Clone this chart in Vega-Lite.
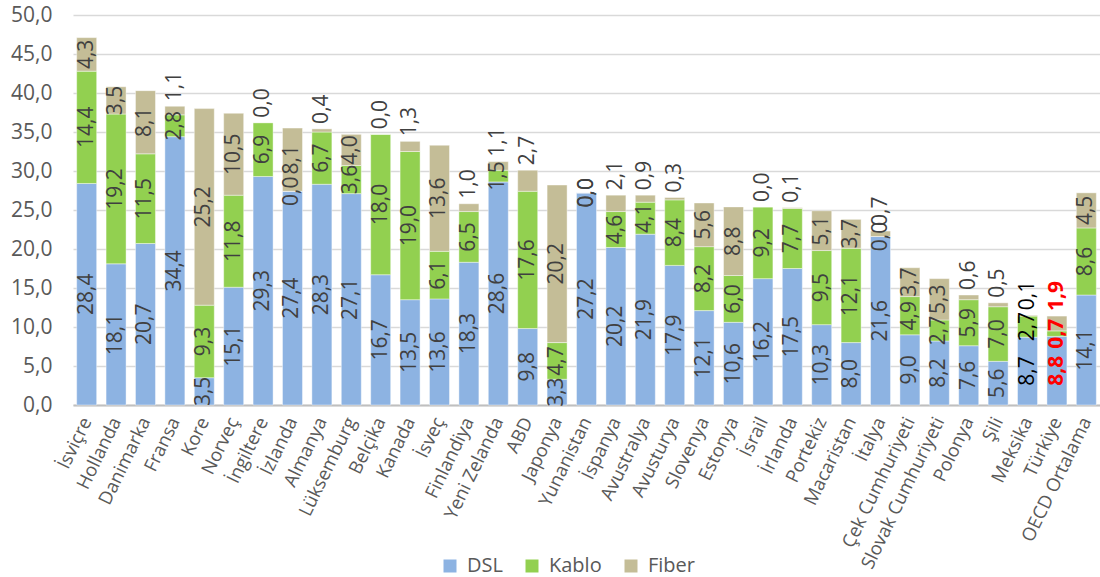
{
  "$schema": "https://vega.github.io/schema/vega-lite/v6.json",
  "width": 1027,
  "height": 390,
  "autosize": {"type": "none"},
  "padding": {"left": 73, "top": 15, "right": 0, "bottom": 172},
  "background": "white",
  "config": {
    "locale": {"number": {"decimal": ",", "thousands": ".", "grouping": [3], "currency": ["", ""]}},
    "view": {"stroke": null},
    "font": "Open Sans",
    "axisY": {
      "title": null,
      "format": ".1f",
      "domain": false,
      "ticks": false,
      "labelFontSize": 21,
      "labelColor": "#595959",
      "labelFont": "Open Sans",
      "labelPadding": 21,
      "gridColor": "#d9d9d9",
      "gridWidth": 1.3
    }
  },
  "data": {
    "values": [
      {"Ülke": "İsviçre", "DSL": 28.4, "Kablo": 14.4, "Fiber": 4.3},
      {"Ülke": "Hollanda", "DSL": 18.1, "Kablo": 19.2, "Fiber": 3.5},
      {"Ülke": "Danimarka", "DSL": 20.7, "Kablo": 11.5, "Fiber": 8.1},
      {"Ülke": "Fransa", "DSL": 34.4, "Kablo": 2.8, "Fiber": 1.1},
      {"Ülke": "Kore", "DSL": 3.5, "Kablo": 9.3, "Fiber": 25.2},
      {"Ülke": "Norveç", "DSL": 15.1, "Kablo": 11.8, "Fiber": 10.5},
      {"Ülke": "İngiltere", "DSL": 29.3, "Kablo": 6.9, "Fiber": 0.0},
      {"Ülke": "İzlanda", "DSL": 27.4, "Kablo": 0.0, "Fiber": 8.1},
      {"Ülke": "Almanya", "DSL": 28.3, "Kablo": 6.7, "Fiber": 0.4},
      {"Ülke": "Lüksemburg", "DSL": 27.1, "Kablo": 3.6, "Fiber": 4.0},
      {"Ülke": "Belçika", "DSL": 16.7, "Kablo": 18.0, "Fiber": 0.0},
      {"Ülke": "Kanada", "DSL": 13.5, "Kablo": 19.0, "Fiber": 1.3},
      {"Ülke": "İsveç", "DSL": 13.6, "Kablo": 6.1, "Fiber": 13.6},
      {"Ülke": "Finlandiya", "DSL": 18.3, "Kablo": 6.5, "Fiber": 1.0},
      {"Ülke": "Yeni Zelanda", "DSL": 28.6, "Kablo": 1.5, "Fiber": 1.1},
      {"Ülke": "ABD", "DSL": 9.8, "Kablo": 17.6, "Fiber": 2.7},
      {"Ülke": "Japonya", "DSL": 3.3, "Kablo": 4.7, "Fiber": 20.2},
      {"Ülke": "Yunanistan", "DSL": 27.2, "Kablo": 0.0, "Fiber": 0.0},
      {"Ülke": "İspanya", "DSL": 20.2, "Kablo": 4.6, "Fiber": 2.1},
      {"Ülke": "Avustralya", "DSL": 21.9, "Kablo": 4.1, "Fiber": 0.9},
      {"Ülke": "Avusturya", "DSL": 17.9, "Kablo": 8.4, "Fiber": 0.3},
      {"Ülke": "Slovenya", "DSL": 12.1, "Kablo": 8.2, "Fiber": 5.6},
      {"Ülke": "Estonya", "DSL": 10.6, "Kablo": 6.0, "Fiber": 8.8},
      {"Ülke": "İsrail", "DSL": 16.2, "Kablo": 9.2, "Fiber": 0.0},
      {"Ülke": "İrlanda", "DSL": 17.5, "Kablo": 7.7, "Fiber": 0.1},
      {"Ülke": "Portekiz", "DSL": 10.3, "Kablo": 9.5, "Fiber": 5.1},
      {"Ülke": "Macaristan", "DSL": 8.0, "Kablo": 12.1, "Fiber": 3.7},
      {"Ülke": "İtalya", "DSL": 21.6, "Kablo": 0.0, "Fiber": 0.7},
      {"Ülke": "Çek Cumhuriyeti", "DSL": 9.0, "Kablo": 4.9, "Fiber": 3.7},
      {"Ülke": "Slovak Cumhuriyeti", "DSL": 8.2, "Kablo": 2.7, "Fiber": 5.3},
      {"Ülke": "Polonya", "DSL": 7.6, "Kablo": 5.9, "Fiber": 0.6},
      {"Ülke": "Şili", "DSL": 5.6, "Kablo": 7.0, "Fiber": 0.5},
      {"Ülke": "Meksika", "DSL": 8.7, "Kablo": 2.7, "Fiber": 0.1},
      {"Ülke": "Türkiye", "DSL": 8.8, "Kablo": 0.7, "Fiber": 1.9},
      {"Ülke": "OECD Ortalama", "DSL": 14.1, "Kablo": 8.6, "Fiber": 4.5}
    ]
  },
  "transform": [
    {"fold": ["DSL", "Kablo", "Fiber"], "as": ["Tür", "Değer"]},
    {"stack": "Değer", "groupby": ["Ülke"], "as": ["y0", "y1"]}
  ],
  "encoding": {
    "x": {
      "field": "Ülke",
      "type": "nominal",
      "sort": null,
      "scale": {"paddingInner": 0.32, "paddingOuter": 0.125},
      "axis": {
        "title": null,
        "labelAngle": -64,
        "labelFontSize": 18.5,
        "labelColor": "#595959",
        "labelFont": "Open Sans",
        "ticks": false,
        "domainColor": "#bfbfbf",
        "domainWidth": 2,
        "labelPadding": 13
      }
    }
  },
  "layer": [
    {
      "mark": {"type": "bar", "stroke": "#ffffff", "strokeWidth": 0.6, "strokeOpacity": 0.7},
      "encoding": {
        "y": {
          "field": "y0",
          "type": "quantitative",
          "title": null,
          "scale": {"domain": [0, 50], "nice": false},
          "axis": {"values": [0, 5, 10, 15, 20, 25, 30, 35, 40, 45, 50]}
        },
        "y2": {"field": "y1"},
        "color": {
          "field": "Tür",
          "type": "nominal",
          "scale": {"domain": ["DSL", "Kablo", "Fiber"], "range": ["#8db3e2", "#92d050", "#c4bd97"]},
          "legend": {
            "orient": "none",
            "legendX": 367,
            "legendY": 541,
            "direction": "horizontal",
            "title": null,
            "symbolType": "square",
            "symbolSize": 169,
            "symbolStrokeWidth": 0,
            "labelFontSize": 20,
            "labelColor": "#595959",
            "labelFont": "Open Sans",
            "columnPadding": 19,
            "labelOffset": 7
          }
        }
      }
    },
    {
      "transform": [{"filter": "datum['Ülke'] != 'Türkiye' && !(datum['Tür'] == 'Fiber' && datum['Değer'] < 3) && !(datum['Tür'] == 'Kablo' && datum['Değer'] == 0)"}],
      "mark": {"type": "text", "angle": 270, "align": "center", "baseline": "middle", "fontSize": 21, "font": "Open Sans"},
      "encoding": {
        "y": {"field": "Değer", "type": "quantitative", "stack": "zero", "bandPosition": 0.5, "title": null, "axis": {"values": [0, 5, 10, 15, 20, 25, 30, 35, 40, 45, 50]}},
        "order": {"field": "y0", "type": "quantitative", "sort": "ascending"},
        "text": {"field": "Değer", "type": "quantitative", "format": ".1f"},
        "color": {"condition": {"test": "datum['Ülke'] == 'Meksika'", "value": "#000000"}, "value": "#404040"}
      }
    },
    {
      "transform": [{"filter": "datum['Ülke'] != 'Türkiye' && datum['Değer'] == 0 && (datum['Tür'] == 'Kablo' || (datum['Tür'] == 'Fiber' && datum['Kablo'] == 0))"}],
      "mark": {"type": "text", "angle": 270, "align": "center", "baseline": "middle", "fontSize": 21, "font": "Open Sans"},
      "encoding": {
        "y": {"field": "y0", "type": "quantitative", "title": null, "axis": {"values": [0, 5, 10, 15, 20, 25, 30, 35, 40, 45, 50]}},
        "text": {"field": "Değer", "type": "quantitative", "format": ".1f"},
        "color": {"value": "#404040"}
      }
    },
    {
      "transform": [{"filter": "datum['Ülke'] != 'Türkiye' && datum['Tür'] == 'Fiber' && datum['Değer'] < 3 && !(datum['Değer'] == 0 && datum['Kablo'] == 0)"}],
      "mark": {"type": "text", "angle": 270, "align": "left", "baseline": "middle", "dx": 5, "fontSize": 21, "font": "Open Sans"},
      "encoding": {
        "y": {"field": "y1", "type": "quantitative", "title": null, "axis": {"values": [0, 5, 10, 15, 20, 25, 30, 35, 40, 45, 50]}},
        "text": {"field": "Değer", "type": "quantitative", "format": ".1f"},
        "color": {"condition": {"test": "datum['Ülke'] == 'Meksika'", "value": "#000000"}, "value": "#404040"}
      }
    },
    {
      "transform": [{"filter": "datum['Ülke'] == 'Türkiye' && datum['Tür'] != 'Fiber'"}],
      "mark": {"type": "text", "angle": 270, "align": "center", "baseline": "middle", "fontSize": 21, "fontWeight": "bold", "font": "Open Sans", "color": "#ff0000"},
      "encoding": {
        "y": {"field": "Değer", "type": "quantitative", "stack": "zero", "bandPosition": 0.5, "title": null, "axis": {"values": [0, 5, 10, 15, 20, 25, 30, 35, 40, 45, 50]}},
        "order": {"field": "y0", "type": "quantitative", "sort": "ascending"},
        "text": {"field": "Değer", "type": "quantitative", "format": ".1f"}
      }
    },
    {
      "transform": [{"filter": "datum['Ülke'] == 'Türkiye' && datum['Tür'] == 'Fiber'"}],
      "mark": {"type": "text", "angle": 270, "align": "left", "baseline": "middle", "dx": 5, "fontSize": 21, "fontWeight": "bold", "font": "Open Sans", "color": "#ff0000"},
      "encoding": {
        "y": {"field": "y1", "type": "quantitative", "title": null, "axis": {"values": [0, 5, 10, 15, 20, 25, 30, 35, 40, 45, 50]}},
        "text": {"field": "Değer", "type": "quantitative", "format": ".1f"}
      }
    }
  ]
}
